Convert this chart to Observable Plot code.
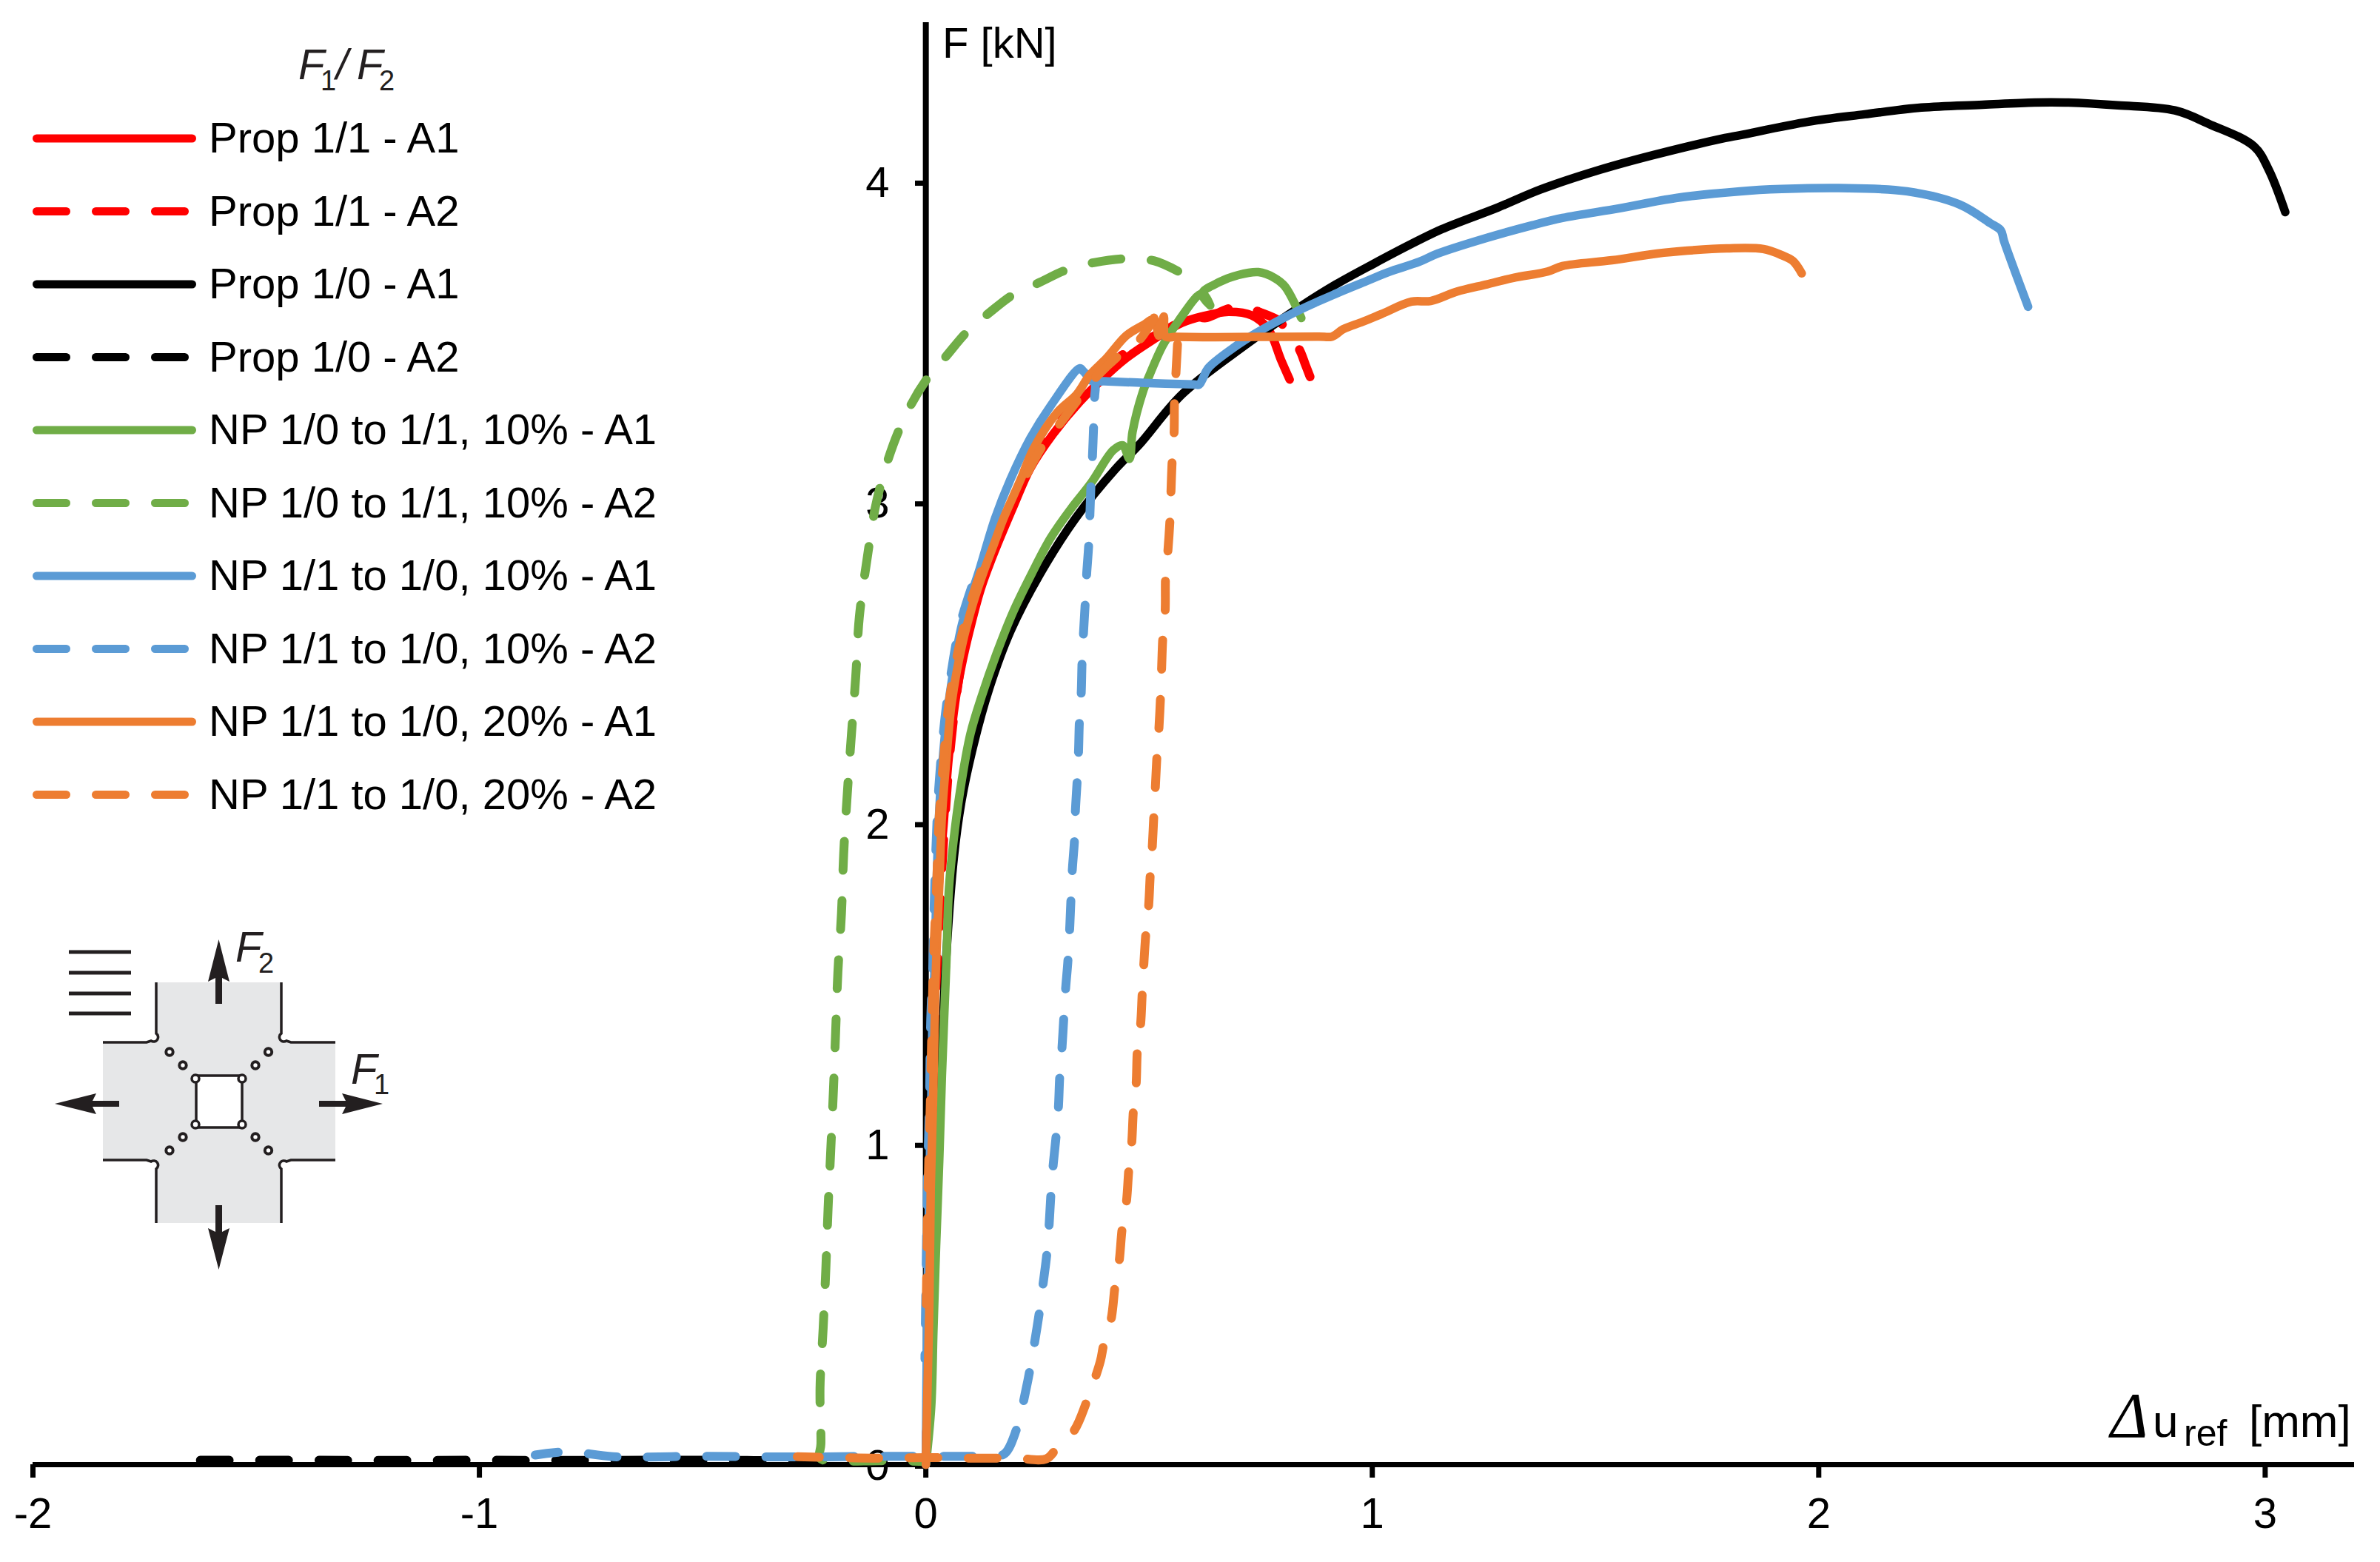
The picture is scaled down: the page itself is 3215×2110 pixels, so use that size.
<!DOCTYPE html>
<html><head><meta charset="utf-8">
<style>html,body{margin:0;padding:0;background:#fff}svg{display:block}</style>
<script src="https://cdn.jsdelivr.net/npm/d3@7"></script>
<script src="https://cdn.jsdelivr.net/npm/@observablehq/plot@0.6"></script>
</head><body><div id="chart"></div>
<script>
const xTicks = [-2,-1,0,1,2,3];
const yTicks = [0,1,2,3,4];
const RED="#ff0000", BLACK="#000000", GREEN="#70ad47", BLUE="#5b9bd5", ORANGE="#ed7d31";

const prop11A1 = [[0,0],[.003,.2],[.006,.5],[.01,.86],[.014,1.125],[.019,1.478],[.031,1.85],[.04,2.0],[.051,2.2],[.066,2.38],[.08,2.49],[.098,2.6],[.123,2.73],[.152,2.84],[.197,2.99],[.234,3.106],[.285,3.213],[.345,3.314],[.405,3.397],[.449,3.45],[.501,3.5],[.574,3.56],[.619,3.58],[.678,3.594],[.73,3.583],[.767,3.54],[.796,3.443],[.815,3.383]];
const prop11A2 = [[0,0],[.008,.6],[.015,1.1],[.024,1.5],[.04,1.95],[.06,2.3],[.09,2.58],[.118,2.72],[.15,2.84],[.19,2.99],[.228,3.11],[.28,3.22],[.34,3.32],[.4,3.41],[.44,3.46],[.5,3.51],[.56,3.555],[.6,3.585],[.625,3.575],[.68,3.605],[.72,3.61],[.745,3.595],[.789,3.568],[.804,3.545],[.837,3.476],[.85,3.43],[.863,3.383]];
const prop10A1 = [[0,0],[.008,.18],[.018,.6],[.028,1],[.045,1.566],[.0625,1.89],[.08,2.07],[.107,2.245],[.142,2.42],[.19,2.6],[.255,2.775],[.335,2.95],[.426,3.106],[.478,3.18],[.574,3.337],[.715,3.49],[.843,3.614],[.919,3.68],[1.003,3.744],[1.088,3.806],[1.156,3.852],[1.282,3.92],[1.376,3.975],[1.51,4.037],[1.63,4.083],[1.79,4.136],[1.824,4.145],[1.977,4.187],[2.103,4.21],[2.23,4.231],[2.367,4.24],[2.484,4.247],[2.552,4.247],[2.67,4.238],[2.798,4.222],[2.874,4.18],[2.975,4.11],[3.008,4.037],[3.045,3.905]];
const prop10A2 = [[-1.625,.014],[-1.4,.014],[-1.2,.013],[-1,.014],[-.8,.013],[-.6,.014],[-.4,.013],[-.2,.012],[0,.01]];
const np1011A1 = [[0,0],[.012,.18],[.017,.418],[.023,.681],[.03,.947],[.036,1.212],[.046,1.566],[.052,1.8],[.065,1.98],[.081,2.138],[.1,2.279],[.125,2.395],[.158,2.527],[.196,2.66],[.239,2.783],[.28,2.89],[.325,2.98],[.37,3.06],[.42,3.163],[.441,3.178],[.456,3.136],[.463,3.22],[.486,3.344],[.501,3.397],[.531,3.49],[.567,3.568],[.619,3.651],[.637,3.614],[.619,3.651],[.656,3.686],[.7,3.709],[.745,3.718],[.781,3.70],[.804,3.674],[.841,3.575]];
const np1011A2 = [[0,.01],[-.1,.012],[-.2,.012],[-.237,.02],[-.235,.065],[-.237,.24],[-.23,.425],[-.224,.61],[-.219,.797],[-.213,.98],[-.207,1.167],[-.202,1.35],[-.197,1.535],[-.189,1.718],[-.184,1.905],[-.176,2.09],[-.167,2.27],[-.157,2.457],[-.149,2.642],[-.132,2.82],[-.11,3.005],[-.073,3.18],[-.033,3.305],[.005,3.39],[.045,3.455],[.093,3.533],[.141,3.59],[.197,3.649],[.252,3.684],[.315,3.725],[.378,3.748],[.449,3.76],[.512,3.753],[.574,3.714]];
const np1110A1 = [[0,0],[.002,.33],[.005,.64],[.008,.9],[.012,1.125],[.015,1.39],[.02,1.566],[.023,1.757],[.027,1.935],[.033,2.11],[.047,2.33],[.061,2.47],[.081,2.62],[.12,2.79],[.155,2.95],[.189,3.07],[.234,3.2],[.279,3.3],[.345,3.418],[.352,3.41],[.375,3.379],[.4,3.378],[.5,3.372],[.6,3.368],[.612,3.367],[.62,3.385],[.632,3.418],[.69,3.483],[.741,3.529],[.834,3.598],[.919,3.651],[.987,3.69],[1.036,3.718],[1.105,3.75],[1.147,3.776],[1.257,3.825],[1.358,3.864],[1.426,3.887],[1.554,3.917],[1.68,3.949],[1.824,3.97],[1.917,3.977],[2.045,3.98],[2.197,3.97],[2.315,3.929],[2.385,3.87],[2.408,3.848],[2.415,3.815],[2.469,3.61]];
const np1110A2 = [[-.875,.03],[-.8,.04],[-.7,.025],[-.5,.026],[-.3,.024],[-.1,.026],[0,.026],[.1,.026],[.15,.024],[.177,.035],[.202,.106],[.226,.245],[.232,.288],[.243,.376],[.254,.473],[.262,.557],[.271,.656],[.276,.744],[.28,.84],[.285,.93],[.292,1.028],[.297,1.115],[.3,1.212],[.305,1.3],[.309,1.393],[.313,1.482],[.318,1.566],[.322,1.665],[.325,1.762],[.328,1.852],[.333,1.949],[.335,2.037],[.339,2.134],[.342,2.222],[.344,2.319],[.348,2.404],[.35,2.506],[.353,2.589],[.357,2.686],[.36,2.771],[.365,2.873],[.37,3.06],[.373,3.136],[.376,3.245],[.378,3.326],[.378,3.374],[.363,3.383]];
const np1110A2Lower = [[-.002,.33],[.001,.64],[.004,.9],[.008,1.125],[.011,1.39],[.016,1.566],[.019,1.757],[.023,1.935],[.029,2.11],[.043,2.33],[.057,2.47],[.077,2.62],[.116,2.79]];
const np1120A1 = [[0,0],[.003,.196],[.008,.506],[.011,.86],[.016,1.125],[.02,1.39],[.023,1.566],[.03,1.8],[.036,2.02],[.046,2.2],[.058,2.376],[.081,2.554],[.106,2.686],[.131,2.79],[.151,2.864],[.174,2.95],[.212,3.07],[.241,3.167],[.294,3.28],[.338,3.337],[.367,3.397],[.405,3.45],[.449,3.52],[.486,3.552],[.511,3.57],[.522,3.52],[.533,3.58],[.537,3.517],[.56,3.516],[.648,3.515],[.75,3.516],[.88,3.517],[.91,3.517],[.935,3.54],[.978,3.563],[1.02,3.587],[1.088,3.626],[1.131,3.628],[1.189,3.657],[1.257,3.68],[1.316,3.70],[1.393,3.72],[1.426,3.737],[1.537,3.755],[1.638,3.776],[1.706,3.785],[1.794,3.792],[1.876,3.79],[1.917,3.771],[1.942,3.753],[1.962,3.714]];
const np1120A2 = [[-.288,.025],[-.2,.022],[-.1,.02],[0,.022],[.1,.02],[.2,.02],[.27,.018],[.29,.045],[.332,.106],[.36,.196],[.391,.323],[.398,.372],[.415,.453],[.424,.559],[.433,.633],[.44,.739],[.449,.815],[.455,.926],[.461,1],[.465,1.106],[.471,1.185],[.474,1.296],[.481,1.372],[.485,1.478],[.493,1.66],[.499,1.741],[.503,1.848],[.507,1.921],[.511,2.032],[.514,2.109],[.518,2.217],[.522,2.293],[.526,2.404],[.528,2.478],[.531,2.584],[.536,2.66],[.537,2.771],[.542,2.845],[.547,2.95],[.549,3.03],[.552,3.136],[.556,3.213],[.557,3.32],[.56,3.397],[.564,3.5]];
const np1120A2Upper = [[.227,3.09],[.264,3.182],[.3,3.245],[.345,3.328],[.381,3.39],[.434,3.46],[.478,3.506],[.511,3.575]];
const np1120A2Lower = [[.001,.5],[.005,.86],[.01,1.125],[.014,1.39],[.017,1.566],[.024,1.8],[.03,2.02],[.04,2.2],[.052,2.376],[.075,2.554],[.1,2.686],[.125,2.79],[.145,2.864]];

const legendNames = ["Prop 1/1 - A1","Prop 1/1 - A2","Prop 1/0 - A1","Prop 1/0 - A2","NP 1/0 to 1/1, 10% - A1","NP 1/0 to 1/1, 10% - A2","NP 1/1 to 1/0, 10% - A1","NP 1/1 to 1/0, 10% - A2","NP 1/1 to 1/0, 20% - A1","NP 1/1 to 1/0, 20% - A2"];
const legendColors = [RED,RED,BLACK,BLACK,GREEN,GREEN,BLUE,BLUE,ORANGE,ORANGE];
const seriesList = [prop11A1,prop11A2,prop10A1,prop10A2,np1011A1,np1011A2,np1110A1,np1110A2,np1120A1,np1120A2];
const seriesExtra = {7:[[np1110A2Lower,[.045,2.26]]],9:[[np1120A2Lower,[.04,2.2]],[np1120A2Upper,null]]};
// vertex of each dashed series that sits at the middle of a dash in the reference
const dashAnchors = {1:[.85,3.43],3:null,5:[-.237,.24],7:[.226,.245],9:[.391,.323]};

const FONT = '"Liberation Sans", Arial, sans-serif';
const DASH_ON=39, DASH_OFF=41, PX_X=603, PX_Y=433;

function dashOffset(data, anchor){
  if(!anchor) return 0;
  let s=0, best=Infinity, at=0;
  for(let i=0;i<data.length;i++){
    if(i) s+=Math.hypot((data[i][0]-data[i-1][0])*PX_X,(data[i][1]-data[i-1][1])*PX_Y);
    const d=Math.hypot((data[i][0]-anchor[0])*PX_X,(data[i][1]-anchor[1])*PX_Y);
    if(d<best){best=d;at=s;}
  }
  return DASH_ON/2-at;
}
function curve(data, color, dashed, anchor){
  return Plot.line(data,{x:d=>d[0],y:d=>d[1],stroke:color,strokeWidth:dashed?12:11.5,curve:"catmull-rom",
    strokeLinecap:"round",strokeLinejoin:"round",
    strokeDasharray:dashed?`${DASH_ON},${DASH_OFF}`:null,
    strokeDashoffset:dashed?dashOffset(data,anchor):null});
}
function label(g,x,y,str,o={}){
  return g.append("text").attr("x",x).attr("y",y).text(str).attr("text-anchor","start")
    .attr("font-family",o.family||FONT).attr("font-size",o.size||58)
    .attr("font-style",o.italic?"italic":"normal").attr("fill",o.fill||"#000");
}

function legendMark(){
  const g=d3.create("svg:g");
  const ink="#231f20";
  label(g,403,107,"F",{italic:true,fill:ink});
  label(g,433,122,"1",{size:38,fill:ink});
  label(g,454,107,"/",{italic:true,fill:ink});
  label(g,482,107,"F",{italic:true,fill:ink});
  label(g,512,122,"2",{size:38,fill:ink});
  legendNames.forEach((name,i)=>{
    const y=187+i*98.5, dashed=i%2===1;
    g.append("line").attr("x1",49.5).attr("x2",dashed?249.5:259.5).attr("y1",y).attr("y2",y)
      .attr("stroke",legendColors[i]).attr("stroke-width",11).attr("stroke-linecap","round")
      .attr("stroke-dasharray",dashed?"40,40":null);
    label(g,282,y+19,name);
  });
  return g.node();
}

function axisLabelsMark(){
  const g=d3.create("svg:g");
  label(g,1273,78,"F [kN]");
  label(g,2851,1941,"Δ",{family:'"Liberation Serif", serif',size:86,italic:true});
  label(g,2908,1941,"u",{size:62});
  label(g,2950,1953,"ref",{size:50});
  label(g,3038,1941,"[mm]",{size:62});
  return g.node();
}

function schematicMark(){
  const g=d3.create("svg:g");
  const ink="#231f20";
  g.append("path").attr("fill","#e6e7e8")
    .attr("d","M211,1327H380V1408H453V1567H380V1652H211V1567H139V1408H211Z");
  [1286,1314,1342,1369].forEach(y=>g.append("line").attr("x1",93).attr("x2",177).attr("y1",y).attr("y2",y)
    .attr("stroke",ink).attr("stroke-width",5));
  const edge="M211,1327V1396A6,6 0 1 1 204,1406L198,1408H139 M380,1327V1396A6,6 0 1 0 387,1406L393,1408H453 M211,1652V1579A6,6 0 1 0 204,1569L198,1567H139 M380,1652V1579A6,6 0 1 1 387,1569L393,1567H453";
  g.append("path").attr("d",edge).attr("fill","none").attr("stroke",ink).attr("stroke-width",3.5);
  g.append("rect").attr("x",265).attr("y",1453).attr("width",62).attr("height",70).attr("fill","#fff").attr("stroke",ink).attr("stroke-width",3.5);
  [[264,1457],[327,1457],[264,1519],[327,1519]].forEach(([x,y])=>g.append("circle").attr("cx",x).attr("cy",y).attr("r",5).attr("fill","#fff").attr("stroke",ink).attr("stroke-width",3.5));
  [[229,1421],[247,1439],[362.5,1421],[345,1439],[247,1536],[229,1554],[345,1536],[362.5,1554]].forEach(([x,y])=>
    g.append("circle").attr("cx",x).attr("cy",y).attr("r",4.7).attr("fill","#fff").attr("stroke",ink).attr("stroke-width",4));
  const arrow=(d)=>g.append("path").attr("d",d).attr("fill",ink);
  arrow("M295.5,1269L310,1326L300,1321V1356H291V1321L281,1326Z");
  arrow("M295.5,1715L310,1659L300,1664V1628H291V1664L281,1659Z");
  arrow("M74,1491L130,1477L125,1487H161V1495H125L130,1505Z");
  arrow("M517,1491L462,1477L467,1487H431V1495H467L462,1505Z");
  label(g,318,1299,"F",{italic:true,fill:ink});
  label(g,349,1314,"2",{size:38,fill:ink});
  label(g,474,1464,"F",{italic:true,fill:ink});
  label(g,505,1478,"1",{size:38,fill:ink});
  return g.node();
}

const marks = [
  Plot.ruleY([0],{strokeWidth:7,stroke:"#000"}),
  Plot.ruleX([0],{strokeWidth:8,stroke:"#000"}),
  Plot.axisX(xTicks,{anchor:"bottom",tickSize:18,strokeWidth:7,tickPadding:26,fontSize:58,tickFormat:d=>String(d),label:null,fill:"#000",stroke:"#000"}),
  Plot.axisY(yTicks,{anchor:"left",dx:1206,dy:2,tickSize:14,strokeWidth:7,tickPadding:35,fontSize:58,tickFormat:d=>String(d),label:null,fill:"#000",stroke:"#000"})
];
seriesList.forEach((s,i)=>{
  const dashed=i%2===1;
  marks.push(curve(s,legendColors[i],dashed,dashAnchors[i]));
  (seriesExtra[i]||[]).forEach(([d,a])=>marks.push(curve(d,legendColors[i],true,a)));
});
marks.push(axisLabelsMark,legendMark,schematicMark);

const chart = Plot.plot({
  width:3215,height:2110,
  marginLeft:44,marginRight:35,marginTop:30,marginBottom:132,
  x:{domain:[-2,3.2],label:null},
  y:{domain:[0,4.496],label:null},
  style:{background:"#fff",fontFamily:FONT,overflow:"visible"},
  marks
});
document.getElementById("chart").appendChild(chart);
</script></body></html>
